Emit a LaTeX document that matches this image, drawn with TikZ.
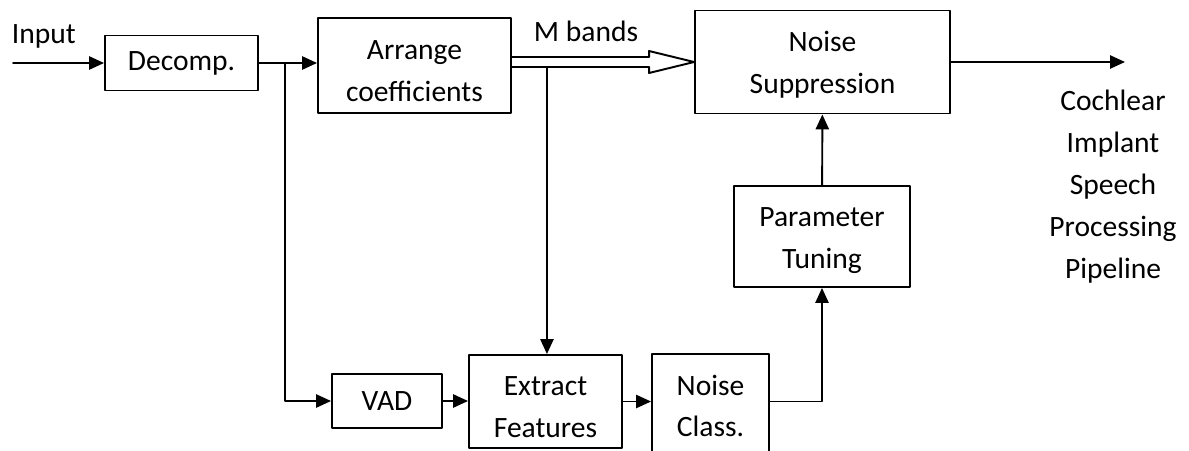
\documentclass[tikz,border=0pt]{standalone}
\usepackage{fontspec}
\setmainfont{Carlito}
\usetikzlibrary{arrows.meta}
\usetikzlibrary{positioning}
\usetikzlibrary{calc}

\tikzset{blk/.style={draw,line width=1.1pt,align=center,inner sep=0pt},
  txt/.style={align=center,inner sep=0pt,yshift=-#1*0.02cm}}

\begin{document}
\begin{tikzpicture}[line cap=round,line join=round,>={Triangle[length=8.5pt,width=7.5pt]},x=0.02cm,y=-0.02cm,line width=1.1pt,every node/.style={font=\fontsize{16.8}{23.8}\selectfont}]
\useasboundingbox (0,0) rectangle (1189,450);
\clip (0,0) rectangle (1189,450);
% top row
\node[blk,minimum width=3.06cm,minimum height=1.1cm] (dec) at (181.5,63) {Decomp.};
\node[blk,minimum width=3.86cm,minimum height=1.9cm,label={[txt=6]center:Arrange\\coefficients}] (arr) at (414.5,65.5) {};
\node[blk,minimum width=5.1cm,minimum height=2.06cm,label={[txt=3]center:Noise\\Suppression}] (ns) at (822.5,62) {};
\node[blk,minimum width=3.52cm,minimum height=2.02cm,label={[txt=4]center:Parameter\\Tuning}] (pt) at (822,236.5) {};
% bottom row
\node[blk,minimum width=2.2cm,minimum height=1.08cm] (vad) at (387,401) {VAD};
\node[blk,minimum width=3.06cm,minimum height=1.86cm,label={[txt=6]center:Extract\\Features}] (ef) at (545.5,401.5) {};
\node[blk,minimum width=2.34cm,minimum height=2.08cm] (nc) at (710.5,406) {Noise\\Class.};
% labels
\node[anchor=base west,inner sep=0pt] (inp) at (11,43) {Input};
\node[anchor=base west,inner sep=0pt] (mbl) at (533,41) {M bands};
\node[align=center,inner sep=0pt] (out) at (1113,186.5) {Cochlear\\Implant\\Speech\\Processing\\Pipeline};
\coordinate (src) at (13,63);
\coordinate (br) at (285,63);
\coordinate (dst) at (1125,62);
% connectors
\draw[->] (src) -- (dec.west);
\draw[->] (dec.east) -- (dec.east -| arr.west);
\draw[->] (br) |- (vad.west);
\draw[->] (vad.east) -- (vad.east -| ef.west);
\draw[->] (ef.east) -- (ef.east -| nc.west);
\draw[->] (ef.east -| nc.east) -| (pt.south);
\draw[->] (pt) -- (ns);
\draw[->] (ns.east) -- (dst);
% double arrow for the M bands
\draw ($(arr.east |- ns.west)+(0,-5)$) -- ($(ns.west)+(-45,-5)$) -- ($(ns.west)+(-45,-11)$) -- (ns.west) -- ($(ns.west)+(-45,11)$) -- ($(ns.west)+(-45,5)$) -- ($(arr.east |- ns.west)+(0,5)$);
\coordinate (mb) at ($(arr.east |- ns.west)+(35,5)$);
\draw[->] (mb) -- (mb |- ef.north);
\end{tikzpicture}
\end{document}
